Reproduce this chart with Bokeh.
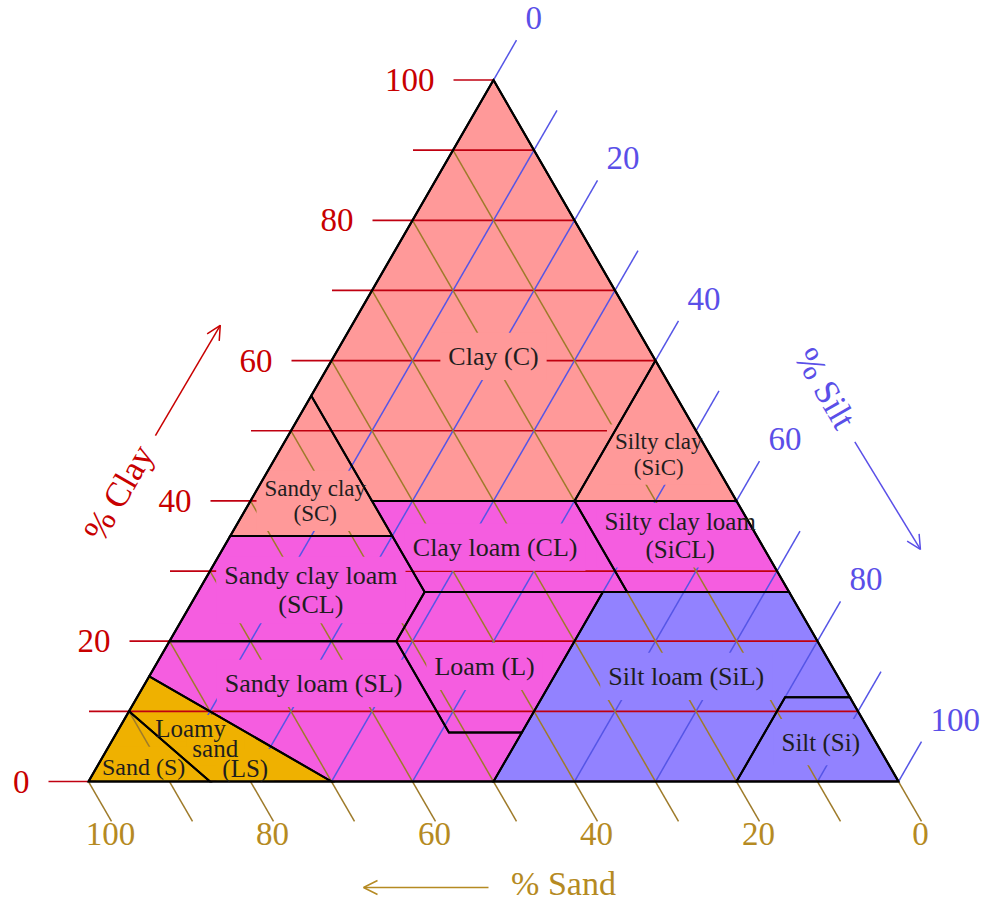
import numpy as np
from bokeh.plotting import figure
from bokeh.models import ColumnDataSource, Arrow, OpenHead
from bokeh.core.properties import value
from bokeh.embed import file_html
from bokeh.resources import INLINE

# ---------------- data (percentages) ----------------
region_names = ["Clay", "Silty clay", "Sandy clay", "Silty clay loam", "Clay loam",
                "Sandy clay loam", "Loam", "Silt loam", "Silt", "Sandy loam",
                "Loamy sand", "Sand"]
region_clay = [
    [100, 60, 40, 40, 55],
    [60, 40, 40],
    [55, 35, 35],
    [40, 40, 27, 27],
    [40, 40, 27, 27],
    [35, 35, 27, 20, 20],
    [27, 27, 7, 7, 20],
    [27, 27, 12, 12, 0, 0],
    [12, 12, 0, 0],
    [20, 20, 7, 7, 0, 0, 15],
    [15, 0, 0, 10],
    [10, 0, 0],
]
region_silt = [
    [0, 40, 40, 15, 0],
    [40, 60, 40],
    [0, 0, 20],
    [40, 60, 73, 53],
    [40, 15, 28, 53],
    [0, 20, 28, 28, 0],
    [28, 50, 50, 41, 28],
    [50, 73, 88, 80, 80, 50],
    [80, 88, 100, 80],
    [0, 28, 41, 50, 50, 30, 0],
    [0, 30, 15, 0],
    [0, 15, 0],
]
region_group = ["clay", "clay", "clay", "loam", "loam", "loam", "loam",
                "silt", "silt", "loam", "sand", "sand"]

label_text = ["Clay (C)", "Silty clay\n(SiC)", "Sandy clay\n(SC)", "Silty clay loam\n(SiCL)",
              "Clay loam (CL)", "Sandy clay loam\n(SCL)", "Loam (L)", "Silt loam (SiL)",
              "Silt (Si)", "Sandy loam (SL)", "Loamy", "sand", "(LS)", "Sand (S)"]
label_clay = [60.6, 46.6, 40.0, 35.1, 33.4, 27.3, 16.4, 15.0, 5.6, 14.0, 7.6, 4.7, 1.9, 2.0]
label_silt = [19.7, 47.1, 8.0, 55.5, 33.5, 13.8, 40.7, 66.3, 87.6, 20.8, 8.8, 13.3, 18.4, 5.8]
label_group = ["clay", "clay", "clay", "loam", "loam", "loam", "loam", "silt", "silt",
               "loam", "sand", "sand", "sand", "sand"]

grid_values = [0, 10, 20, 30, 40, 50, 60, 70, 80, 90, 100]
tick_values = [0, 20, 40, 60, 80, 100]

# ---------------- styles ----------------
group_color = {"clay": "#FF9999", "loam": "#F55DE0", "silt": "#9282FF", "sand": "#EFB100"}
label_size = [26, 23, 23, 25, 26, 26, 26, 26, 25, 26, 25, 25, 25, 24]
label_padx = [8, 8, 8, 8, 8, 8, 8, 8, 8, 8, -5, 6, 6, 6]
label_pady = [10, 6, 6, 6, 10, 6, 10, 10, 10, 10, 0, 4, 6, 8]

RED, BLUE, GOLD = "#C80000", "#5A4FE8", "#B58A22"
RED_GRID, BLUE_GRID, GOLD_GRID = "#C00010", "#5555E6", "#9E7B2A"
FONT = value("Liberation Serif")
# Times / Liberation Serif advance widths (per 1000 em)
ADV = {' ': 250, '(': 333, ')': 333, 'A': 722, 'C': 667, 'L': 611, 'S': 556, 'a': 444,
       'c': 444, 'd': 500, 'i': 278, 'l': 278, 'm': 778, 'n': 500, 'o': 500, 's': 389,
       't': 278, 'y': 500}


def text_width(s, size):
    return sum(ADV.get(ch, 500) for ch in s) / 1000 * size


# ---------------- geometry ----------------
S = 8.1                  # pixels per percent
H = np.sqrt(3) / 2


def tx(clay, silt):
    return np.asarray(silt, float) + np.asarray(clay, float) / 2


def ty(clay):
    return np.asarray(clay, float) * H


W, HT = 980, 903
x0 = -88 / S
y0 = -(HT - 781) / S
X0, X1, Y0, Y1 = x0, x0 + W / S, y0, y0 + HT / S
p = figure(width=W, height=HT, x_range=(X0, X1), y_range=(Y0, Y1),
           output_backend="svg", toolbar_location=None, x_axis_type=None, y_axis_type=None,
           min_border=0, outline_line_color=None)
p.grid.visible = False

# region fills
xs = [list(tx(c, s)) for c, s in zip(region_clay, region_silt)]
ys = [list(ty(c)) for c in region_clay]
fills = [group_color[g] for g in region_group]
p.patches(xs, ys, fill_color=fills, line_color=None)

# grid lines inside the triangle
g = np.array(grid_values, float)
p.segment(x0=g / 2, y0=g * H, x1=100 - g / 2, y1=g * H, line_color=RED_GRID, line_width=1.7)
p.segment(x0=g, y0=g * 0, x1=g + (100 - g) / 2, y1=(100 - g) * H, line_color=BLUE_GRID, line_width=1.5)
p.segment(x0=(100 - g) / 2, y0=(100 - g) * H, x1=100 - g, y1=g * 0, line_color=GOLD_GRID, line_width=1.5)

# label background boxes (screen-sized)
lx = tx(label_clay, label_silt)
ly = ty(label_clay)
bw, bh = [], []
for txt, sz, px, py in zip(label_text, label_size, label_padx, label_pady):
    lines = txt.split("\n")
    bw.append(max(text_width(l, sz) for l in lines) + 2 * px)
    bh.append(len(lines) * sz * 1.05 + 2 * py)
p.rect(x=lx, y=ly, width=bw, height=bh, width_units="screen", height_units="screen",
       fill_color=[group_color[gg] for gg in label_group], line_color=None)

# white mask outside the triangle (hides box overflow)
p.multi_polygons(xs=[[[[X0 - 5, X1 + 5, X1 + 5, X0 - 5], [0, 50, 100]]]],
                 ys=[[[[Y0 - 5, Y0 - 5, Y1 + 5, Y1 + 5], [0, 100 * H, 0]]]],
                 fill_color="white", line_color=None)

# tick extensions outside the triangle
ext_h = 40 / S
ext_d = 46 / S
p.segment(x0=g / 2 - ext_h, y0=g * H, x1=g / 2, y1=g * H, line_color=RED_GRID, line_width=1.7)
rx = g + (100 - g) / 2
ry = (100 - g) * H
p.segment(x0=rx, y0=ry, x1=rx + ext_d * 0.5, y1=ry + ext_d * H, line_color=BLUE_GRID, line_width=1.5)
p.segment(x0=100 - g, y0=g * 0, x1=100 - g + ext_d * 0.5, y1=-ext_d * H, line_color=GOLD_GRID, line_width=1.5)

# tick labels
t = np.array(tick_values, float)
tick_text = [str(int(v)) for v in tick_values]
p.text(x=t / 2 - ext_h - 19 / S, y=t * H, text=tick_text,
       text_font=FONT, text_font_size="33px", text_color=RED,
       text_align="right", text_baseline="middle")
silt_end_x = t + (100 - t) / 2 + ext_d * 0.5
silt_end_y = (100 - t) * H + ext_d * H
p.text(x=silt_end_x + 9 / S, y=silt_end_y + 22 / S, text=tick_text,
       text_font=FONT, text_font_size="33px", text_color=BLUE,
       text_align="left", text_baseline="middle")
sand_end_x = (100 - t) + ext_d * 0.5
p.text(x=sand_end_x - 1 / S, y=-ext_d * H - 2 / S, text=tick_text,
       text_font=FONT, text_font_size="33px", text_color=GOLD,
       text_align="center", text_baseline="top")

# region boundaries and outline
p.patches(xs, ys, fill_alpha=0, line_color="black", line_width=2, line_join="miter")
p.patches([[0, 100, 50]], [[0, 0, 100 * H]], fill_alpha=0, line_color="black", line_width=2.2)

# region label texts
lsrc = ColumnDataSource(dict(x=lx, y=ly, text=label_text, size=[f"{s}px" for s in label_size]))
p.text(x="x", y="y", text="text", source=lsrc, text_font=FONT, text_font_size="size",
       text_color="#1E1E1E", text_align="center", text_baseline="middle",
       text_line_height=1.02)

# axis titles with arrows
uL = np.array([0.5, H]); nL = np.array([-H, 0.5])
uR = np.array([0.5, -H]); nR = np.array([H, 0.5])
top = np.array([50, 100 * H])
rv = np.array([100.0, 0.0])


def along(origin, u, n, a, d):
    return origin + (a * u + d * n) / S


a0 = along(np.zeros(2), uL, nL, 333, 115)
a1 = along(np.zeros(2), uL, nL, 461, 114)
p.add_layout(Arrow(end=OpenHead(size=14, line_color=RED, line_width=1.5), x_start=a0[0], y_start=a0[1],
                   x_end=a1[0], y_end=a1[1], line_color=RED, line_width=1.5))
c = along(np.zeros(2), uL, nL, 265, 118)
p.text(x=[c[0]], y=[c[1]], text=["% Clay"], angle=np.pi / 3, text_font=FONT, text_font_size="35px",
       text_color=RED, text_align="center", text_baseline="middle")

a0 = along(top, uR, nR, 494, 132)
a1 = along(top, uR, nR, 620, 135)
p.add_layout(Arrow(end=OpenHead(size=14, line_color=BLUE, line_width=1.5), x_start=a0[0], y_start=a0[1],
                   x_end=a1[0], y_end=a1[1], line_color=BLUE, line_width=1.5))
c = along(top, uR, nR, 433, 133)
p.text(x=[c[0]], y=[c[1]], text=["% Silt"], angle=-np.pi / 3, text_font=FONT, text_font_size="35px",
       text_color=BLUE, text_align="center", text_baseline="middle")

uB = np.array([-1.0, 0.0]); nB = np.array([0.0, -1.0])
a0 = along(rv, uB, nB, 410, 106)
a1 = along(rv, uB, nB, 535, 106)
p.add_layout(Arrow(end=OpenHead(size=14, line_color=GOLD, line_width=1.5), x_start=a0[0], y_start=a0[1],
                   x_end=a1[0], y_end=a1[1], line_color=GOLD, line_width=1.5))
c = along(rv, uB, nB, 335, 102)
p.text(x=[c[0]], y=[c[1]], text=["% Sand"], text_font=FONT, text_font_size="34px",
       text_color=GOLD, text_align="center", text_baseline="middle")

open("out.html", "w").write(file_html(p, INLINE))
